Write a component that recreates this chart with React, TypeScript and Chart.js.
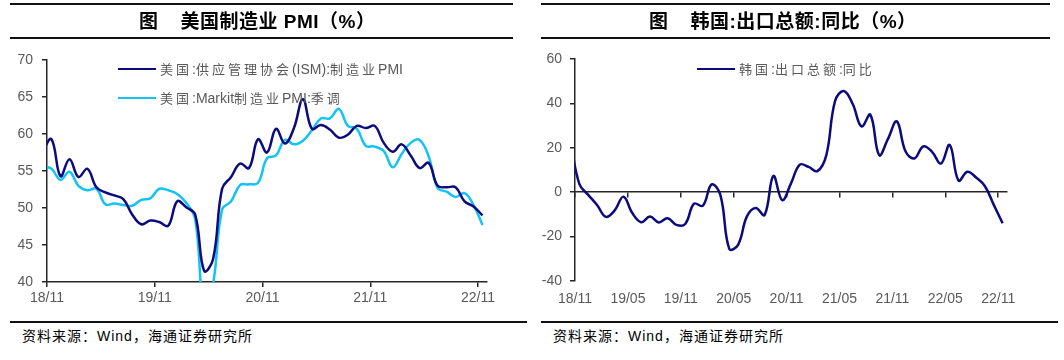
import React, { useEffect, useRef } from "react";
import { Chart, registerables } from "chart.js";

Chart.register(...registerables);

// ---------------- DATA ----------------
const months = [
  "2018-10", "2018-11", "2018-12",
  "2019-01", "2019-02", "2019-03", "2019-04", "2019-05", "2019-06", "2019-07", "2019-08", "2019-09", "2019-10", "2019-11", "2019-12",
  "2020-01", "2020-02", "2020-03", "2020-04", "2020-05", "2020-06", "2020-07", "2020-08", "2020-09", "2020-10", "2020-11", "2020-12",
  "2021-01", "2021-02", "2021-03", "2021-04", "2021-05", "2021-06", "2021-07", "2021-08", "2021-09", "2021-10", "2021-11", "2021-12",
  "2022-01", "2022-02", "2022-03", "2022-04", "2022-05", "2022-06", "2022-07", "2022-08", "2022-09", "2022-10", "2022-11",
];

const ismPMI = [
  57.7, 59.3, 54.3,
  56.6, 54.2, 55.3, 52.8, 52.1, 51.7, 51.2, 49.1, 47.8, 48.3, 48.1, 47.6,
  50.9, 50.1, 49.1, 41.5, 43.1, 52.6, 54.2, 56.0, 55.4, 59.3, 57.5, 60.7,
  58.7, 60.8, 64.7, 60.7, 61.2, 60.6, 59.5, 59.9, 61.1, 60.8, 61.1, 58.8,
  57.6, 58.6, 57.1, 55.4, 56.1, 53.0, 52.8, 52.8, 50.9, 50.2, 49.0,
];

const markitPMI = [
  55.7, 55.3, 53.8,
  54.9, 53.0, 52.4, 52.6, 50.5, 50.6, 50.4, 50.3, 51.1, 51.3, 52.6, 52.4,
  51.9, 50.7, 48.5, 36.1, 39.8, 49.8, 50.9, 53.1, 53.2, 53.4, 56.7, 57.1,
  59.2, 58.6, 59.1, 60.5, 62.1, 62.1, 63.4, 61.1, 60.7, 58.4, 58.3, 57.7,
  55.5, 57.3, 58.8, 59.2, 57.0, 52.7, 52.2, 51.5, 52.0, 50.4, 47.7,
];

const koreaExportYoY = [
  22.7, 3.6, -1.2,
  -5.8, -11.1, -8.2, -2.0, -9.4, -13.5, -11.0, -13.6, -11.7, -14.7, -14.3, -5.2,
  -6.1, 3.5, -1.4, -25.5, -23.7, -10.9, -7.1, -10.3, 7.3, -3.6, 4.0, 12.4,
  11.4, 9.5, 16.6, 41.1, 45.6, 39.7, 29.6, 34.9, 16.7, 24.0, 31.9, 18.3,
  15.2, 20.6, 18.2, 12.9, 21.3, 5.2, 9.2, 6.6, 2.7, -5.7, -14.0,
];

const leftSeriesNames = ["美国:供应管理协会(ISM):制造业PMI", "美国:Markit制造业PMI:季调"];
const rightSeriesNames = ["韩国:出口总额:同比"];

const leftTickLabels = ["18/11", "19/11", "20/11", "21/11", "22/11"];
const rightTickLabels = ["18/11", "19/05", "19/11", "20/05", "20/11", "21/05", "21/11", "22/05", "22/11"];

const leftTitle = ["图", "美国制造业 PMI（%）"];
const rightTitle = ["图", "韩国:出口总额:同比（%）"];
const sourceText = "资料来源：Wind，海通证券研究所";

// ---------------- STYLE ----------------
const NAVY = "#0B0B7E";
const CYAN = "#14C3F5";
const AXIS = "#262626";
const TICK = "#595959";
const tickFont = { family: '"Liberation Sans", Arial, sans-serif', size: 14 };

// month position: index of a month relative to 2018-11 (tick 0), points drawn mid-month
const monthPos = (label: string) => {
  const [y, m] = label.split("-").map(Number);
  return (y - 2018) * 12 + (m - 11) + 0.5;
};
const tickPos = (label: string) => {
  const [yy, mm] = label.split("/").map(Number);
  return (yy - 18) * 12 + (mm - 11);
};

const toPoints = (vals: number[]) => vals.map((v, i) => ({ x: monthPos(months[i]), y: v }));

function makeTickHooks(labels: string[]) {
  const values = labels.map(tickPos);
  return {
    afterBuildTicks: (s: any) => {
      s.ticks = values.map((v) => ({ value: v }));
    },
    callback: (v: any) => {
      const idx = values.indexOf(Number(v));
      return idx >= 0 ? labels[idx] : "";
    },
  };
}

function LegendText({ text }: { text: string }) {
  const parts = text.match(/[\u4e00-\u9fff]+|[^\u4e00-\u9fff]+/g) || [];
  return (
    <>
      {parts.map((p, i) =>
        /[\u4e00-\u9fff]/.test(p) ? (
          <span key={i} style={{ fontFamily: '"Noto Sans CJK SC", sans-serif', fontSize: 13, letterSpacing: "3px" }}>{p}</span>
        ) : (
          <span key={i} style={{ fontFamily: '"Liberation Sans", Arial, sans-serif', fontSize: 14 }}>{p}</span>
        )
      )}
    </>
  );
}

function LegendItem({ x, y, color, text }: { x: number; y: number; color: string; text: string }) {
  return (
    <>
      <div style={{ position: "absolute", left: x, top: y - 1, width: 38, height: 0, borderTop: `2.5px solid ${color}` }} />
      <div style={{ position: "absolute", left: x + 42, top: y - 10, height: 20, lineHeight: "20px", whiteSpace: "nowrap", color: TICK }}>
        <LegendText text={text} />
      </div>
    </>
  );
}

function Title({ x, parts }: { x: number; parts: string[] }) {
  return (
    <div style={{ position: "absolute", left: x, top: 8, height: 28, lineHeight: "28px", whiteSpace: "nowrap", fontWeight: 700, fontSize: 19, letterSpacing: "0.5px", color: "#000", fontFamily: '"Liberation Sans", "Noto Sans CJK SC", sans-serif' }}>
      <span>{parts[0]}</span>
      <span style={{ display: "inline-block", width: 22 }} />
      <span>{parts[1]}</span>
    </div>
  );
}

function Rule({ x, y, w }: { x: number; y: number; w: number }) {
  return <div style={{ position: "absolute", left: x, top: y, width: w, height: 2, background: "#111" }} />;
}

export default function App() {
  const leftRef = useRef<HTMLCanvasElement>(null);
  const rightRef = useRef<HTMLCanvasElement>(null);

  useEffect(() => {
    const lt = makeTickHooks(leftTickLabels);
    const left = new Chart(leftRef.current!, {
      type: "line",
      data: {
        datasets: [
          { label: leftSeriesNames[0], data: toPoints(ismPMI), borderColor: NAVY, borderWidth: 2.5, pointRadius: 0, tension: 0.4, fill: false },
          { label: leftSeriesNames[1], data: toPoints(markitPMI), borderColor: CYAN, borderWidth: 2.5, pointRadius: 0, tension: 0.4, fill: false },
        ],
      },
      options: {
        responsive: false,
        animation: false,
        events: [],
        layout: { padding: { top: 60, right: 43, left: 0, bottom: 0 } },
        plugins: { legend: { display: false }, tooltip: { enabled: false } },
        scales: {
          x: {
            type: "linear",
            min: 0,
            max: 49,
            position: "bottom",
            afterBuildTicks: lt.afterBuildTicks,
            afterFit: (s: any) => { s.height = 38; },
            grid: { drawOnChartArea: false, drawTicks: true, tickLength: 5, color: AXIS, lineWidth: 1.5 },
            border: { display: true, color: AXIS, width: 1.5 },
            ticks: { autoSkip: false, maxRotation: 0, padding: 3, color: TICK, font: tickFont, callback: lt.callback },
          },
          y: {
            type: "linear",
            min: 40,
            max: 70,
            afterFit: (s: any) => { s.width = 47; },
            grid: { drawOnChartArea: false, drawTicks: true, tickLength: 5, color: AXIS, lineWidth: 1.5 },
            border: { display: true, color: AXIS, width: 1.5 },
            ticks: { stepSize: 5, padding: 9, color: TICK, font: tickFont },
          },
        },
      },
    } as any);

    const rt = makeTickHooks(rightTickLabels);
    const right = new Chart(rightRef.current!, {
      type: "line",
      data: {
        datasets: [
          { label: rightSeriesNames[0], data: toPoints(koreaExportYoY), borderColor: NAVY, borderWidth: 2.5, pointRadius: 0, tension: 0.4, fill: false, xAxisID: "x", yAxisID: "y" },
        ],
      },
      options: {
        responsive: false,
        animation: false,
        events: [],
        layout: { padding: { top: 59, right: 57, left: 0, bottom: 0 } },
        plugins: { legend: { display: false }, tooltip: { enabled: false } },
        scales: {
          x: {
            type: "linear",
            axis: "x",
            min: 0,
            max: 49,
            position: { y: 0 },
            afterBuildTicks: rt.afterBuildTicks,
            grid: { drawOnChartArea: false, drawTicks: true, tickLength: 5, color: AXIS, lineWidth: 1.5 },
            border: { display: true, color: AXIS, width: 1.5 },
            ticks: { display: false, autoSkip: false },
          },
          x2: {
            type: "linear",
            axis: "x",
            min: 0,
            max: 49,
            position: "bottom",
            afterBuildTicks: rt.afterBuildTicks,
            afterFit: (s: any) => { s.height = 39; },
            grid: { display: false, drawTicks: false },
            border: { display: false },
            ticks: { autoSkip: false, maxRotation: 0, padding: 10, color: TICK, font: tickFont, callback: rt.callback },
          },
          y: {
            type: "linear",
            min: -40,
            max: 60,
            afterFit: (s: any) => { s.width = 45; },
            grid: { drawOnChartArea: false, drawTicks: true, tickLength: 5, color: AXIS, lineWidth: 1.5 },
            border: { display: true, color: AXIS, width: 1.5 },
            ticks: { stepSize: 20, padding: 8, color: TICK, font: tickFont },
          },
        },
      },
    } as any);

    return () => {
      left.destroy();
      right.destroy();
    };
  }, []);

  return (
    <div style={{ position: "absolute", left: 0, top: 0, width: 1064, height: 360, background: "#fff", overflow: "hidden" }}>
      <canvas ref={leftRef} width={530} height={320} style={{ position: "absolute", left: 0, top: 0, width: 530, height: 320 }} />
      <canvas ref={rightRef} width={534} height={320} style={{ position: "absolute", left: 530, top: 0, width: 534, height: 320 }} />

      <Rule x={10} y={3} w={503} />
      <Rule x={10} y={37} w={503} />
      <Rule x={541} y={3} w={509} />
      <Rule x={541} y={37} w={509} />
      <Title x={139} parts={leftTitle} />
      <Title x={649} parts={rightTitle} />

      <LegendItem x={118} y={69} color={NAVY} text={leftSeriesNames[0]} />
      <LegendItem x={118} y={98} color={CYAN} text={leftSeriesNames[1]} />
      <LegendItem x={697} y={69} color={NAVY} text={rightSeriesNames[0]} />

      <Rule x={10} y={321} w={517} />
      <Rule x={541} y={321} w={517} />
      <div style={{ position: "absolute", left: 22, top: 326, height: 20, lineHeight: "20px", fontSize: 14, letterSpacing: "1px", whiteSpace: "nowrap", color: "#000", fontFamily: '"Liberation Sans", "Noto Sans CJK SC", sans-serif' }}>{sourceText}</div>
      <div style={{ position: "absolute", left: 553, top: 326, height: 20, lineHeight: "20px", fontSize: 14, letterSpacing: "1px", whiteSpace: "nowrap", color: "#000", fontFamily: '"Liberation Sans", "Noto Sans CJK SC", sans-serif' }}>{sourceText}</div>
    </div>
  );
}
